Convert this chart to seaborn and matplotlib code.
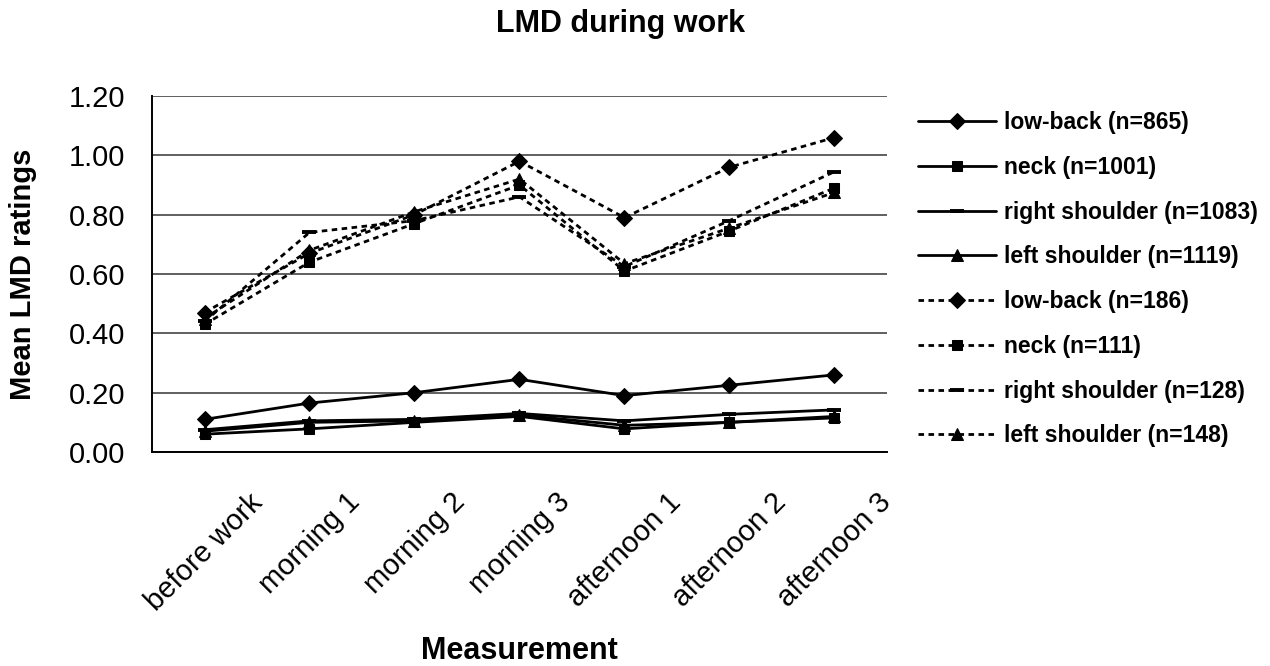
import numpy as np
import pandas as pd
import matplotlib
matplotlib.use("Agg")
import matplotlib.pyplot as plt
import seaborn as sns

# Measurement moments along the working day
categories = ["before work", "morning 1", "morning 2", "morning 3",
              "afternoon 1", "afternoon 2", "afternoon 3"]

# Mean LMD ratings, large groups (solid lines)
low_back_865 = [0.11, 0.165, 0.20, 0.245, 0.19, 0.225, 0.26]
neck_1001 = [0.06, 0.078, 0.10, 0.12, 0.078, 0.10, 0.115]
right_shoulder_1083 = [0.075, 0.105, 0.11, 0.13, 0.105, 0.127, 0.142]
left_shoulder_1119 = [0.07, 0.10, 0.105, 0.125, 0.09, 0.10, 0.12]

# Mean LMD ratings, small groups (dashed lines)
low_back_186 = [0.47, 0.67, 0.80, 0.98, 0.79, 0.96, 1.06]
neck_111 = [0.43, 0.64, 0.77, 0.90, 0.61, 0.745, 0.89]
right_shoulder_128 = [0.44, 0.74, 0.78, 0.86, 0.625, 0.78, 0.945]
left_shoulder_148 = [0.45, 0.68, 0.81, 0.92, 0.635, 0.755, 0.875]

series_labels = ["low-back (n=865)", "neck (n=1001)", "right shoulder (n=1083)",
                 "left shoulder (n=1119)", "low-back (n=186)", "neck (n=111)",
                 "right shoulder (n=128)", "left shoulder (n=148)"]
series_values = [low_back_865, neck_1001, right_shoulder_1083, left_shoulder_1119,
                 low_back_186, neck_111, right_shoulder_128, left_shoulder_148]

y_ticks = [0.0, 0.2, 0.4, 0.6, 0.8, 1.0, 1.2]

sns.set_style("white")
plt.rcParams["font.family"] = ["Liberation Sans", "DejaVu Sans"]
plt.rcParams.update({"text.color": "black", "axes.labelcolor": "black",
                     "xtick.color": "black", "ytick.color": "black"})

# Marker and line style per series
marker_style = {
    "D": dict(marker="D", markersize=8),
    "s": dict(marker="s", markersize=7),
    "_": dict(marker="_", markersize=9.5, markeredgewidth=2.8),
    "^": dict(marker="^", markersize=9),
}
marker_keys = ["D", "s", "_", "^"] * 2
dashed_flags = [False] * 4 + [True] * 4

fig = plt.figure(figsize=(12.7, 6.66), dpi=100)
ax = fig.add_axes([152 / 1270, 1 - 452 / 666, (887 - 152) / 1270, (452 - 96) / 666])

positions = np.arange(len(categories)) + 0.5
for label, values, mk, dashed in zip(series_labels, series_values, marker_keys, dashed_flags):
    df = pd.DataFrame({"pos": positions, "value": values})
    style = dict(marker_style[mk])
    ls = (0, (2.0, 1.6)) if dashed else "-"
    sns.lineplot(data=df, x="pos", y="value", ax=ax, color="black",
                 linewidth=2.0, linestyle=ls, markerfacecolor="black",
                 markeredgecolor="black", label=label, legend=False,
                 **style)

# Axes
ax.set_xlim(0, len(categories))
ax.set_ylim(0, 1.2)
ax.set_yticks(y_ticks)
ax.set_yticklabels([f"{v:.2f}" for v in y_ticks], fontsize=21)
ax.set_xticks(np.arange(len(categories) + 1))
ax.set_xticklabels([])
ax.set_xticks(positions, minor=True)
ax.set_xticklabels(categories, minor=True, rotation=45, ha="center", va="top",
                   fontsize=21)
ax.tick_params(axis="x", which="major", length=6, width=1.3, direction="out")
ax.tick_params(axis="x", which="minor", length=0, pad=26)
ax.tick_params(axis="y", length=6, width=1.3, direction="out", pad=13)

ax.yaxis.grid(True, color="#444444", linewidth=1.2)
ax.set_axisbelow(True)
for side in ["top", "right"]:
    ax.spines[side].set_visible(False)
for side in ["left", "bottom"]:
    ax.spines[side].set_color("black")
    ax.spines[side].set_linewidth(1.4)

ax.set_xlabel("Measurement", fontsize=22, fontweight="bold")
ax.xaxis.set_label_coords(0.5, (452 - 651) / 356)
ax.xaxis.label.set_va("center")
ax.set_ylabel("Mean LMD ratings", fontsize=21, fontweight="bold")
ax.yaxis.set_label_coords((23 - 152) / 735, 0.5)
ax.yaxis.label.set_va("center")

fig.text(621 / 1270, 1 - 24 / 666, "LMD during work", ha="center", va="center",
         fontsize=22, fontweight="bold")

handles, labels = ax.get_legend_handles_labels()
ax.legend(handles, labels, loc="upper left",
          bbox_to_anchor=(918 / 1270, 1 - 111 / 666),
          bbox_transform=fig.transFigure, frameon=False,
          prop={"size": 16.5, "weight": "bold"}, handlelength=3.4,
          handletextpad=0.35, labelspacing=0.95, borderpad=0, borderaxespad=0)

fig.savefig("out.png", dpi=100, facecolor="white")
